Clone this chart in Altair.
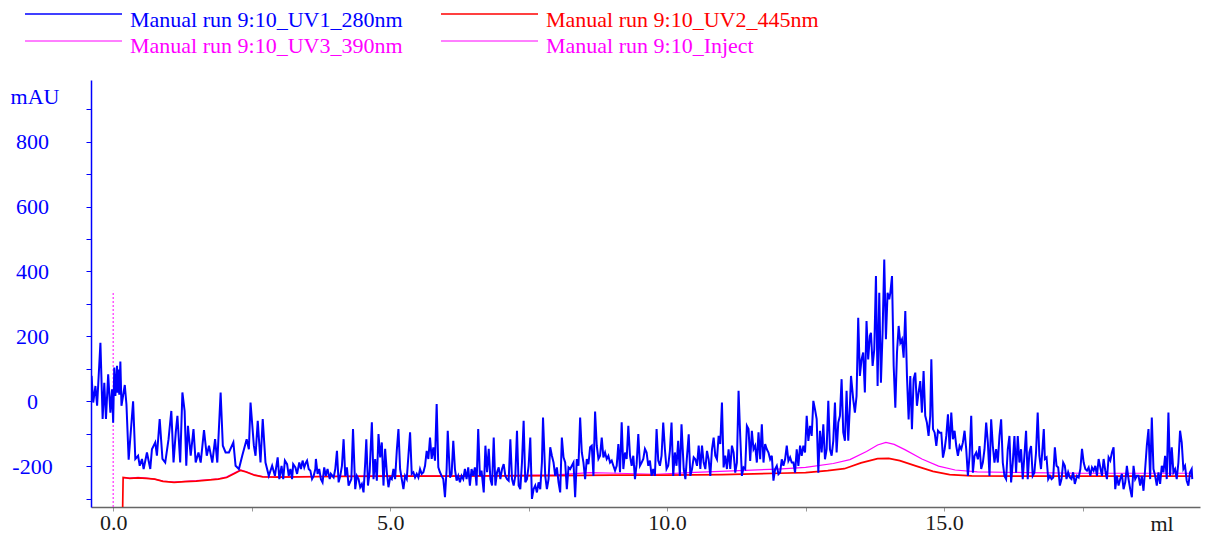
import altair as alt
import pandas as pd

# ---------------- data (ml, mAU) ----------------
uv1 = [
    (-0.39, 78), (-0.36, -4), (-0.32, 47), (-0.29, -14), (-0.23, 180), (-0.19, -55),
    (-0.16, 57), (-0.13, -55), (-0.09, 83), (-0.05, -35), (-0.02, 37), (0.00, -66),
    (0.02, 104), (0.04, 16), (0.07, 109), (0.08, 26), (0.10, 98), (0.11, 20),
    (0.13, 122), (0.15, -14), (0.21, 50), (0.24, -10), (0.28, -180), (0.36, 0),
    (0.40, -178), (0.45, -168), (0.48, -199), (0.52, -178), (0.55, -209), (0.61, -158),
    (0.67, -209), (0.70, -148), (0.76, -127), (0.79, -168), (0.84, -55), (0.89, -178),
    (0.94, -189), (1.00, -117), (1.05, -30), (1.09, -189), (1.13, -96), (1.16, -45),
    (1.21, -189), (1.25, 27), (1.29, -30), (1.32, -199), (1.35, -76), (1.40, -168),
    (1.45, -86), (1.49, -189), (1.54, -158), (1.58, -189), (1.64, -89), (1.69, -168),
    (1.73, -137), (1.79, -189), (1.84, -117), (1.88, -189), (1.94, 27), (1.98, -137),
    (2.03, -158), (2.09, -158), (2.17, -127), (2.21, -199), (2.27, -209), (2.33, -168),
    (2.41, -117), (2.45, -148), (2.48, -4), (2.54, -137), (2.57, -168), (2.61, -60),
    (2.66, -189), (2.70, -55), (2.75, -189), (2.81, -230), (2.87, -199),
    (2.92, -230), (2.97, -173), (3.00, -240), (3.04, -199), (3.07, -240), (3.10, -183),
    (3.14, -194), (3.17, -230), (3.20, -209), (3.23, -240), (3.25, -194), (3.29, -204),
    (3.32, -224), (3.36, -189), (3.39, -209), (3.42, -183), (3.45, -204), (3.48, -189),
    (3.50, -183), (3.53, -209), (3.56, -214), (3.59, -240), (3.62, -230), (3.65, -209),
    (3.66, -178), (3.69, -224), (3.72, -209), (3.75, -240), (3.78, -250), (3.81, -204),
    (3.84, -230), (3.87, -209), (3.91, -240), (3.93, -224), (3.98, -235), (4.01, -209),
    (4.04, -153), (4.07, -250), (4.10, -230), (4.13, -199), (4.16, -117), (4.19, -230),
    (4.22, -204), (4.25, -260), (4.30, -240), (4.33, -86), (4.37, -271), (4.40, -230),
    (4.43, -240), (4.46, -265), (4.49, -255), (4.52, -281), (4.55, -189), (4.57, -117),
    (4.60, -260), (4.63, -219), (4.67, -65), (4.70, -240), (4.73, -178), (4.76, -245),
    (4.79, -101), (4.82, -173), (4.85, -127), (4.88, -260), (4.91, -147), (4.94, -219),
    (4.97, -265), (5.00, -235), (5.03, -240), (5.06, -209), (5.09, -240), (5.12, -153),
    (5.15, -86), (5.18, -209), (5.21, -240), (5.24, -271), (5.27, -230), (5.30, -240),
    (5.33, -168), (5.36, -96), (5.39, -224), (5.42, -219), (5.45, -235), (5.48, -224),
    (5.51, -235), (5.54, -209), (5.57, -224), (5.60, -219), (5.63, -199), (5.66, -153),
    (5.69, -178), (5.72, -112), (5.75, -178), (5.78, -142), (5.81, -183), (5.84, -9),
    (5.87, -204), (5.90, -219), (5.93, -230), (5.96, -240), (5.99, -296), (6.02, -209),
    (6.04, -91), (6.08, -235), (6.11, -224), (6.14, -122), (6.17, -209), (6.20, -245),
    (6.23, -230), (6.26, -250), (6.29, -230), (6.32, -240),
    (6.35, -209), (6.38, -240), (6.41, -204), (6.44, -260), (6.47, -209), (6.50, -230),
    (6.53, -204), (6.56, -260), (6.59, -86), (6.62, -230), (6.65, -214), (6.69, -281),
    (6.72, -137), (6.75, -219), (6.78, -147), (6.81, -240), (6.84, -260), (6.87, -112),
    (6.90, -260), (6.93, -219), (6.96, -204), (6.99, -240), (7.02, -209), (7.05, -194),
    (7.08, -230), (7.11, -240), (7.14, -245), (7.17, -117), (7.20, -240), (7.23, -260),
    (7.26, -230), (7.29, -91), (7.32, -260), (7.35, -271), (7.38, -189), (7.41, -60),
    (7.44, -250), (7.47, -240), (7.50, -199), (7.53, -112), (7.56, -301), (7.59, -271),
    (7.62, -260), (7.65, -281), (7.68, -250), (7.71, -271), (7.74, -189), (7.76, -50),
    (7.80, -230), (7.83, -271), (7.86, -240), (7.89, -142), (7.92, -168), (7.95, -189),
    (7.98, -230), (8.01, -204), (8.04, -250), (8.07, -281), (8.10, -112), (8.13, -173),
    (8.16, -189), (8.19, -271), (8.22, -204), (8.25, -209), (8.28, -199), (8.31, -189),
    (8.34, -296), (8.37, -178), (8.40, -199), (8.43, -50), (8.46, -158), (8.49, -189),
    (8.52, -240), (8.55, -178), (8.58, -194), (8.61, -142), (8.64, -137), (8.67, -230),
    (8.70, -32), (8.73, -137), (8.76, -178), (8.79, -168), (8.82, -112), (8.85, -173),
    (8.88, -158), (8.91, -178), (8.94, -168), (8.97, -189), (9.00, -183), (9.03, -199),
    (9.06, -214), (9.09, -199), (9.12, -132), (9.15, -219), (9.18, -65), (9.21, -209),
    (9.24, -158), (9.27, -178), (9.30, -76), (9.33, -168), (9.36, -199), (9.39, -168),
    (9.42, -240), (9.45, -194), (9.48, -101), (9.51, -199), (9.54, -189), (9.57, -178),
    (9.60, -147), (9.63, -158), (9.66, -199), (9.69, -183), (9.72, -230), (9.75, -209),
    (9.78, -230), (9.81, -86), (9.84, -183),
    (9.87, -199), (9.90, -168), (9.93, -66), (9.96, -148), (9.99, -209), (10.02, -199),
    (10.05, -153), (10.08, -66), (10.11, -230), (10.14, -158), (10.17, -199), (10.20, -122),
    (10.23, -230), (10.26, -71), (10.30, -209), (10.33, -240), (10.36, -168), (10.39, -102),
    (10.42, -230), (10.45, -209), (10.48, -173), (10.51, -179), (10.54, -199), (10.57, -137),
    (10.60, -209), (10.63, -137), (10.66, -189), (10.69, -209), (10.72, -153), (10.75, -179),
    (10.78, -230), (10.81, -148), (10.84, -112), (10.87, -168), (10.90, -179), (10.93, -107),
    (10.96, -132), (10.99, -4), (11.02, -204), (11.05, -168), (11.08, -209), (11.11, -148),
    (11.14, -209), (11.17, -137), (11.20, -158), (11.23, -220), (11.26, -189), (11.29, 32),
    (11.32, -107), (11.35, -230), (11.38, -204), (11.41, -209), (11.44, -76), (11.47, -86),
    (11.50, -184), (11.53, -91), (11.56, -148), (11.59, -137), (11.62, -189), (11.65, -96),
    (11.68, -179), (11.71, -71), (11.74, -189), (11.77, -132), (11.80, -148), (11.83, -158),
    (11.86, -179), (11.89, -168), (11.92, -245), (11.95, -209), (11.98, -199), (12.01, -225),
    (12.04, -220), (12.07, -179), (12.10, -199), (12.13, -179), (12.16, -137), (12.19, -184),
    (12.22, -173), (12.25, -189), (12.28, -189), (12.31, -220), (12.34, -148), (12.37, -199),
    (12.40, -137), (12.43, -168), (12.46, -137), (12.49, -158), (12.52, -45), (12.55, -122),
    (12.58, -76), (12.61, -107), (12.64, 1), (12.67, -25), (12.70, -55), (12.73, -220),
    (12.76, -91), (12.79, -158), (12.82, -71), (12.85, -179), (12.88, -148), (12.91, 1),
    (12.94, -148), (12.97, -168), (13.00, -122), (13.03, -4), (13.06, -158), (13.09, -66),
    (13.12, -45), (13.15, 68), (13.18, -96), (13.21, -122), (13.24, 32), (13.27, -122),
    (13.30, -14), (13.32, 78), (13.36, 6), (13.39, -35), (13.42, 16), (13.45, 257),
    (13.48, 78), (13.51, 129), (13.54, 150), (13.57, 27), (13.60, 247), (13.63, 129),
    (13.66, 201), (13.68, 211), (13.71, 109), (13.74, 160), (13.77, 386), (13.80, 47),
    (13.83, 334), (13.86, 57), (13.89, 211), (13.92, 437), (13.95, 191), (13.98, 334),
    (14.01, 314), (14.03, 334), (14.06, 386), (14.09, 109), (14.12, -20), (14.15, 150),
    (14.18, 232), (14.21, 180), (14.24, 191), (14.27, 134), (14.30, 278), (14.33, 78),
    (14.36, -56), (14.39, 78), (14.42, -86), (14.45, 68), (14.48, 88), (14.51, -14),
    (14.54, 27), (14.57, 62), (14.60, -35), (14.63, 93), (14.66, -45), (14.69, -66),
    (14.72, -107), (14.75, -45), (14.77, 129), (14.80, -86), (14.83, -97), (14.86, -138),
    (14.89, -91), (14.92, -97), (14.95, -97), (14.98, -174), (15.01, -148), (15.04, -107),
    (15.07, -40), (15.10, -148), (15.13, -35), (15.16, -117), (15.19, -91), (15.22, -138),
    (15.25, -168), (15.28, -138), (15.31, -148), (15.34, -127), (15.37, -91), (15.40, -148),
    (15.43, -230), (15.46, -168), (15.49, -45), (15.52, -220), (15.55, -168), (15.58, -158),
    (15.61, -179), (15.64, -138), (15.67, -209), (15.70, -189), (15.73, -148), (15.76, -66),
    (15.79, -127), (15.82, -230), (15.85, -56), (15.88, -138), (15.91, -189), (15.94, -148),
    (15.97, -189), (16.00, -107), (16.03, -56), (16.06, -189), (16.09, -230), (16.12, -240),
    (16.15, -148), (16.18, -107), (16.21, -250), (16.24, -189), (16.27, -107), (16.30, -220),
    (16.33, -107), (16.36, -189), (16.39, -148), (16.42, -240), (16.45, -168), (16.48, -91),
    (16.51, -240), (16.54, -158), (16.57, -138), (16.60, -230), (16.63, -220), (16.66, -158),
    (16.69, -35), (16.72, -168),
    (16.75, -209), (16.78, -137), (16.80, -86), (16.82, -178), (16.85, -173), (16.88, -240),
    (16.91, -230), (16.94, -240), (16.97, -235), (17.00, -142), (17.03, -199), (17.06, -204),
    (17.09, -260), (17.12, -240), (17.15, -189), (17.18, -199), (17.21, -240), (17.24, -219),
    (17.27, -235), (17.30, -240), (17.33, -219), (17.36, -255), (17.40, -230), (17.43, -235),
    (17.46, -209), (17.49, -147), (17.52, -189), (17.55, -209), (17.58, -214), (17.61, -204),
    (17.64, -230), (17.67, -204), (17.70, -214), (17.73, -199), (17.76, -230), (17.79, -178),
    (17.82, -204), (17.85, -230), (17.88, -178), (17.91, -214), (17.94, -240), (17.97, -173),
    (18.00, -183), (18.03, -158), (18.06, -142), (18.09, -271), (18.12, -230), (18.15, -260),
    (18.18, -240), (18.21, -224), (18.24, -271), (18.27, -250), (18.30, -199), (18.33, -240),
    (18.36, -271), (18.39, -296), (18.42, -199), (18.45, -240), (18.48, -230), (18.51, -230),
    (18.54, -260), (18.57, -230), (18.60, -276), (18.63, -209), (18.66, -137), (18.69, -86),
    (18.72, -240), (18.75, -50), (18.78, -209), (18.81, -230), (18.84, -260), (18.87, -219),
    (18.90, -255), (18.93, -199), (18.96, -219), (18.99, -168), (19.02, -240), (19.05, -35),
    (19.08, -230), (19.11, -142), (19.14, -219), (19.17, -209), (19.20, -240), (19.23, -189),
    (19.26, -91), (19.29, -127), (19.32, -209), (19.35, -199), (19.38, -245), (19.41, -260),
    (19.44, -219), (19.47, -209), (19.48, -240),
]

uv2 = [
    (0.17, -345), (0.18, -235), (0.30, -238), (0.45, -236), (0.60, -238), (0.75, -240),
    (0.90, -247), (1.10, -250), (1.30, -248), (1.50, -246), (1.70, -243), (1.90, -240),
    (2.05, -235), (2.20, -222), (2.30, -213), (2.40, -218), (2.55, -228), (2.70, -233),
    (3.00, -234), (4.00, -232), (5.00, -231), (6.00, -231), (7.00, -230), (8.00, -229),
    (9.00, -228), (10.00, -228), (11.00, -226), (12.00, -222), (12.50, -220), (12.90, -214),
    (13.20, -208), (13.50, -190), (13.80, -177), (14.00, -176), (14.20, -183), (14.50, -200),
    (14.80, -216), (15.10, -226), (15.50, -230), (16.50, -231), (17.50, -231), (18.50, -231),
    (19.48, -231),
]

uv3 = [
    (0.18, -236), (0.30, -237), (0.45, -235), (0.60, -237), (0.75, -240), (0.90, -246),
    (1.10, -249), (1.30, -247), (1.50, -245), (1.70, -242), (1.90, -239), (2.05, -233),
    (2.20, -220), (2.30, -212), (2.40, -217), (2.55, -227), (2.70, -232), (3.00, -233),
    (4.00, -231), (5.00, -230), (6.00, -230), (7.00, -229), (8.00, -227), (8.60, -220),
    (9.10, -222), (9.80, -225), (10.50, -219), (11.30, -214), (12.00, -209), (12.50, -204),
    (13.00, -192), (13.30, -180), (13.60, -155), (13.80, -135), (13.95, -127), (14.10, -133),
    (14.30, -150), (14.60, -178), (14.90, -200), (15.20, -212), (15.60, -218), (16.50, -220),
    (17.50, -222), (18.50, -222), (19.48, -222),
]

inject_ml = [0.0]
inject_top_mau = [340]

series_names = [
    "Manual run 9:10_UV1_280nm",
    "Manual run 9:10_UV2_445nm",
    "Manual run 9:10_UV3_390nm",
    "Manual run 9:10_Inject",
]
series_colors = ["#0000ff", "#ff0000", "#ff00ff", "#ff00ff"]

x_tick_values = [0.0, 2.5, 5.0, 7.5, 10.0, 12.5, 15.0, 17.5]
y_tick_values = [-300, -200, -100, 0, 100, 200, 300, 400, 500, 600, 700, 800, 900]
x_domain = [-0.40, 19.62]
y_domain = [-326, 990]

# ---------------- layout / style ----------------
W, H = 1109, 427
FONT = "Liberation Serif"
FS = 22

xs = alt.Scale(domain=x_domain, nice=False, zero=False)
ys = alt.Scale(domain=y_domain, nice=False, zero=False)

x_axis = alt.Axis(
    values=x_tick_values,
    labelExpr="datum.value % 5 === 0 ? format(datum.value, '.1f') : ''",
    domainColor="#666666", domainWidth=1.5,
    tickColor="#999999", tickSize=4, tickWidth=1,
    labelColor="#1a1a1a", labelFont=FONT, labelFontSize=FS,
    labelPadding=1, labelFlush=False, labelOverlap=False,
    grid=False, title=None,
)
y_axis = alt.Axis(
    values=y_tick_values,
    labelExpr="datum.value % 200 === 0 ? '' + datum.value : ''",
    domainColor="#0000ff", domainWidth=1.5,
    tickColor="#0000ff", tickSize=5, tickWidth=1,
    labelColor="#0000ff", labelFont=FONT, labelFontSize=FS,
    labelAlign="center", labelBaseline="middle", labelPadding=54,
    labelFlush=False, labelOverlap=False,
    grid=False, title=None,
)


def trace(points, color, width):
    df = pd.DataFrame(points, columns=["ml", "mAU"])
    return alt.Chart(df).mark_line(color=color, strokeWidth=width, clip=True).encode(
        x=alt.X("ml:Q", scale=xs, axis=x_axis),
        y=alt.Y("mAU:Q", scale=ys, axis=y_axis),
    )


layers = []
layers.append(trace(uv3, "#ff00ff", 1.2))
layers.append(trace(uv2, "#ff0000", 1.7))

inj_df = pd.DataFrame({"ml": inject_ml, "mAU": [y_domain[0]] * len(inject_ml),
                       "top": inject_top_mau})
layers.append(
    alt.Chart(inj_df).mark_rule(color="#ff00ff", strokeDash=[2, 2], strokeWidth=1).encode(
        x=alt.X("ml:Q", scale=xs, axis=x_axis),
        y=alt.Y("mAU:Q", scale=ys, axis=y_axis),
        y2="top:Q",
    )
)
layers.append(trace(uv1, "#0000ff", 2.0))

# unit labels
layers.append(
    alt.Chart(pd.DataFrame({"t": ["mAU"]})).mark_text(
        font=FONT, fontSize=FS, color="#0000ff", align="center", baseline="middle"
    ).encode(text="t:N", x=alt.value(-56), y=alt.value(17))
)
layers.append(
    alt.Chart(pd.DataFrame({"t": ["ml"]})).mark_text(
        font=FONT, fontSize=FS, color="#1a1a1a", align="center", baseline="middle"
    ).encode(text="t:N", x=alt.value(1071), y=alt.value(444))
)

# legend (two columns, two rows) above the plot
for i, (name, color) in enumerate(zip(series_names, series_colors)):
    col, row = i % 2, i // 2
    off = col * 416
    ly = -66 + row * 27
    ty = -53 + row * 26
    src = pd.DataFrame({"n": [name]})
    layers.append(
        alt.Chart(src).mark_rule(color=color, strokeWidth=1.5 if i < 2 else 1.0).encode(
            x=alt.value(-66 + off), x2=alt.value(31 + off), y=alt.value(ly)
        )
    )
    layers.append(
        alt.Chart(src).mark_text(
            font=FONT, fontSize=FS, color=color, align="left", baseline="alphabetic"
        ).encode(text="n:N", x=alt.value(39 + off), y=alt.value(ty))
    )

chart = alt.layer(*layers).properties(
    width=W, height=H,
    padding={"left": 91, "top": 80, "right": 11, "bottom": 32},
    autosize=alt.AutoSizeParams(type="none"),
    background="white",
).configure_view(strokeWidth=0)

chart.save("out.html", embed_options={"renderer": "svg", "actions": False})
